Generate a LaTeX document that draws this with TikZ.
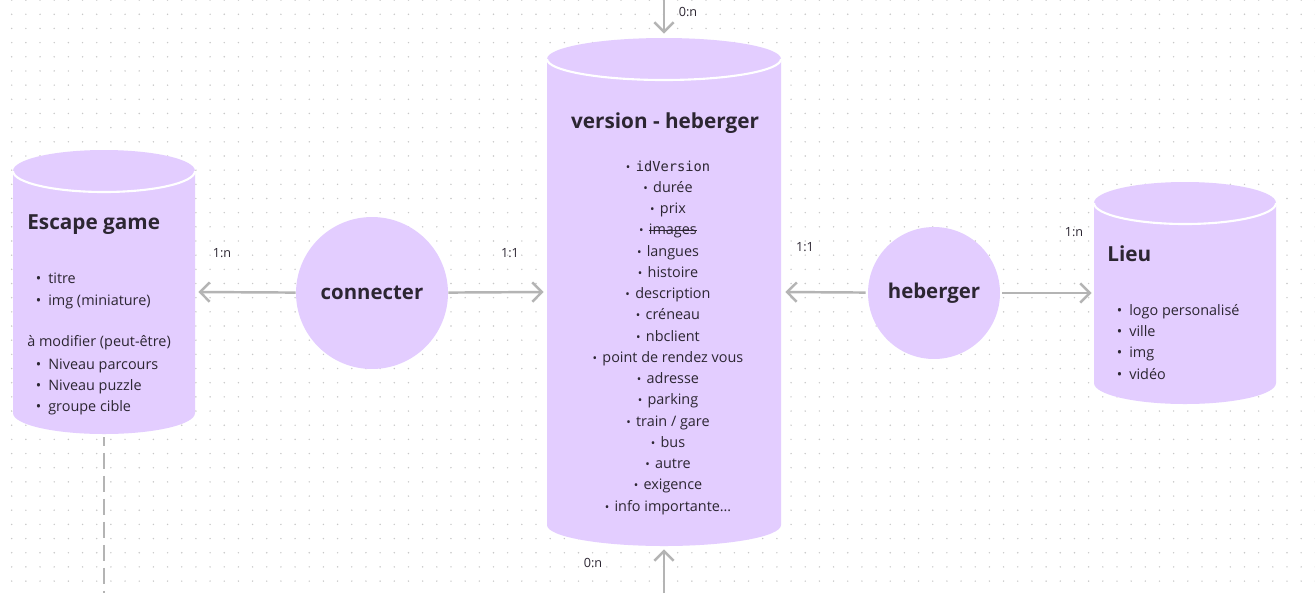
\documentclass[tikz,border=0pt]{standalone}
\usepackage{fontspec}
\setmainfont{Open Sans}
\newfontfamily\codefont{DejaVu Sans Mono}
\usetikzlibrary{arrows.meta}
\definecolor{lavande}{RGB}{227,205,255}
\definecolor{encre}{RGB}{44,38,50}
\definecolor{trait}{RGB}{180,180,180}
\definecolor{grille}{RGB}{200,200,200}
\def\dbshape(#1:#2:#3:#4)#5{%
	\fill[lavande] (#1,-#3) -- (#1,-#4) arc[start angle=180, end angle=360, x radius={(#2-#1)/2}, y radius=21] -- (#2,-#3) arc[start angle=0, end angle=180, x radius={(#2-#1)/2}, y radius=21] -- cycle;
	\draw[white, line width=1.2pt] (#1,-#3) arc[start angle=180, end angle=360, x radius={(#2-#1)/2}, y radius=21];
	\node[inner sep=0, minimum width={(#2-#1)*0.02cm}, minimum height={(#4-#3)*0.02cm}] (#5) at ({(#1+#2)/2},{-(#3+#4)/2}) {};
}
\newcommand\blt{\makebox[7.1pt][l]{•}}
\newcommand\cblt{{\fontsize{6.8}{7}\selectfont•}\hspace{3pt}}
\newcommand\barre[1]{\sbox0{#1}\rlap{\rule[0.3em]{\wd0}{0.5pt}}#1}
\tikzset{
	attr/.style={font=\fontsize{8.2}{10}\selectfont, text=encre, inner sep=0},
	titre/.style={font=\bfseries\fontsize{11.8}{14}\selectfont, text=encre, inner sep=0},
	assoc/.style={circle, fill=lavande, inner sep=0, text=encre, font=\bfseries\fontsize{11.6}{14}\selectfont},
	card/.style={font=\fontsize{7.2}{8}\selectfont, text=encre, inner sep=0},
	rel/.style={draw=trait, line width=1.4pt, -{Straight Barb[length=5.5pt, width=11pt]}},
	lien/.style={draw=trait, line width=1.4pt, dash pattern=on 0.33cm off 0.13cm, dash phase=0.15cm}
}
\begin{document}
\begin{tikzpicture}[x=0.02cm, y=0.02cm]
	%%%%% START %%%%%
	\fill[white] (0,0) rectangle (1315,-593);
	\useasboundingbox (0,0) rectangle (1315,-593);
	
	% grille de points
	\foreach \i in {0,...,92}
		\foreach \j in {0,...,41}
			\fill[grille] ({11.7+14.17*\i},{-0.1-14.17*\j}) circle (0.8);
	
	% tables
	\dbshape(13:195:171:413){escape}
	\dbshape(547:781:59:525){version}
	\dbshape(1094:1276:203:383){lieu}
	
	% associations
	\node[assoc, minimum size=3.04cm] (connecter) at (372,-293) {connecter};
	\node[assoc, minimum size=2.64cm] (heberger) at (934,-293) {heberger};
	
	\node[titre, anchor=base west] (escapeTitle) at (27,-229) {Escape game};
	\node[titre, anchor=base] (versionTitle) at (665,-128) {version - heberger};
	\node[titre, anchor=base west] (lieuTitle) at (1107,-261) {Lieu};
	
	\foreach \y/\t [count=\k] in {277/titre, 299/img (miniature), 363/Niveau parcours, 384/Niveau puzzle, 405/groupe cible}
		\node[attr, anchor=base west] (escapeAttr\k) at (35.5,{-\y-6}) {\blt\t};
	\node[attr, anchor=base west] (escapeNote) at (27,-346) {à modifier (peut-être)};
	
	\foreach \t [count=\k] in {{\codefont\fontsize{7.8}{10}\selectfont idVersion}, durée, prix, \barre{images}, langues, histoire, description, créneau, nbclient, point de rendez vous, adresse, parking, train / gare, bus, autre, exigence, info importante…}
		\node[attr, anchor=base] (versionAttr\k) at (668,{-171-21.25*(\k-1)}) {\cblt\t};
	
	\foreach \y/\t [count=\k] in {309/logo personalisé, 330/ville, 351/img, 373/vidéo}
		\node[attr, anchor=base west] (lieuAttr\k) at (1116.5,{-\y-6}) {\blt\t};
	
	% liens
	\coordinate (versionIn) at (664,0);
	\coordinate (versionOut) at (664,-593);
	\coordinate (escapeOut) at (104,-593);
	
	\draw[rel, shorten >=0.06cm] (connecter) -- (escape.east);
	\draw[rel, shorten >=0.06cm] (connecter) -- (version.west);
	\draw[rel, shorten <=0.04cm, shorten >=0.08cm] (heberger) -- (version.east);
	\draw[rel, shorten <=0.04cm, shorten >=0.04cm] (heberger) -- (lieu.west);
	\draw[rel, shorten >=0.5cm] (versionIn) -- (version.north);
	\draw[rel, shorten >=0.48cm] (versionOut) -- (version.south);
	\draw[lien, shorten <=0.48cm] (escape.south) -- (escapeOut);
	
	\node[card] (cardEC) at (222,-253) {1:n};
	\node[card] (cardCV) at (510,-253) {1:1};
	\node[card] (cardHV) at (805,-247) {1:1};
	\node[card] (cardHL) at (1074,-232) {1:n};
	\node[card] (cardIn) at (688,-12) {0:n};
	\node[card] (cardOut) at (593,-563) {0:n};
	
	%%%%% END %%%%%
\end{tikzpicture}
\end{document}
